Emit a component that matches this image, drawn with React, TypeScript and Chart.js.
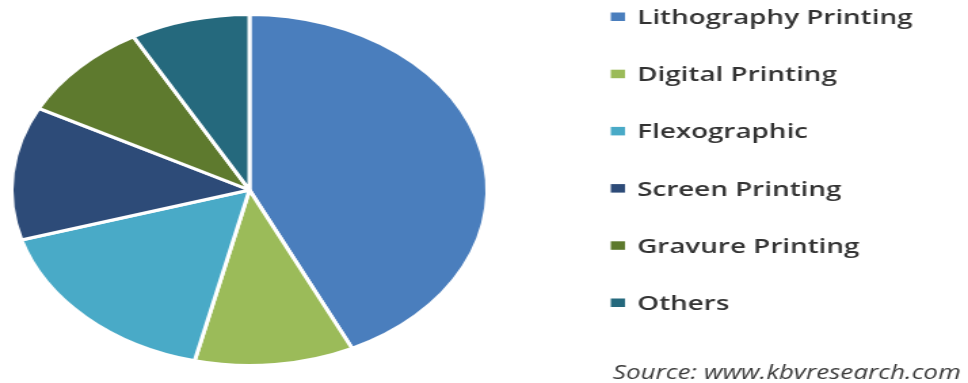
import { useEffect, useRef } from 'react';
import { Chart, registerables } from 'chart.js';

Chart.register(...registerables);

const categories = [
  'Lithography Printing',
  'Digital Printing',
  'Flexographic',
  'Screen Printing',
  'Gravure Printing',
  'Others',
];
const shares = [42.9, 10.8, 16.7, 12.3, 9.2, 8.1];
const sliceColors = ['#4A7EBD', '#9BBB59', '#49AAC7', '#2D4B78', '#5E7A2E', '#25697D'];
const sourceNote = 'Source: www.kbvresearch.com';

// The reference is horizontally stretched; draw at this width, then stretch via CSS.
const DRAW_W = 714;
const DRAW_H = 383;
const VIEW_W = 968;

const sideLegend = {
  id: 'sideLegend',
  afterDraw(chart: any) {
    const ctx = chart.ctx as CanvasRenderingContext2D;
    const labels = chart.data.labels as string[];
    const bg = chart.data.datasets[0].backgroundColor as string[];
    ctx.save();
    ctx.textBaseline = 'alphabetic';
    ctx.textAlign = 'left';
    ctx.font = '600 20.5px "Open Sans"';
    labels.forEach((lab, i) => {
      const baseline = 24 + i * 57.2;
      ctx.fillStyle = bg[i];
      ctx.fillRect(450.5, baseline - 11.5, 10.5, 8.5);
      ctx.fillStyle = '#333333';
      ctx.fillText(lab, 470, baseline);
    });
    ctx.font = 'italic 19.2px "Open Sans"';
    ctx.fillStyle = '#3a3a3a';
    ctx.fillText(sourceNote, 452, 379);
    ctx.restore();
  },
};

export default function App() {
  const ref = useRef<HTMLCanvasElement>(null);
  useEffect(() => {
    document.body.style.margin = '0';
    document.body.style.overflow = 'hidden';
    const chart = new Chart(ref.current as HTMLCanvasElement, {
      type: 'pie',
      data: {
        labels: categories,
        datasets: [
          {
            data: shares,
            backgroundColor: sliceColors,
            borderColor: '#ffffff',
            borderWidth: 3,
          },
        ],
      },
      options: {
        responsive: false,
        devicePixelRatio: 1,
        animation: false,
        layout: { padding: { left: 7, top: 13, right: DRAW_W - 7 - 354, bottom: DRAW_H - 13 - 354 } },
        plugins: {
          legend: { display: false },
          tooltip: { enabled: false },
        },
      },
      plugins: [sideLegend],
    });
    return () => chart.destroy();
  }, []);
  return (
    <div style={{ width: VIEW_W, height: DRAW_H, overflow: 'hidden', background: '#ffffff' }}>
      <canvas
        ref={ref}
        width={DRAW_W}
        height={DRAW_H}
        style={{ width: VIEW_W + 'px', height: DRAW_H + 'px', display: 'block' }}
      />
    </div>
  );
}
